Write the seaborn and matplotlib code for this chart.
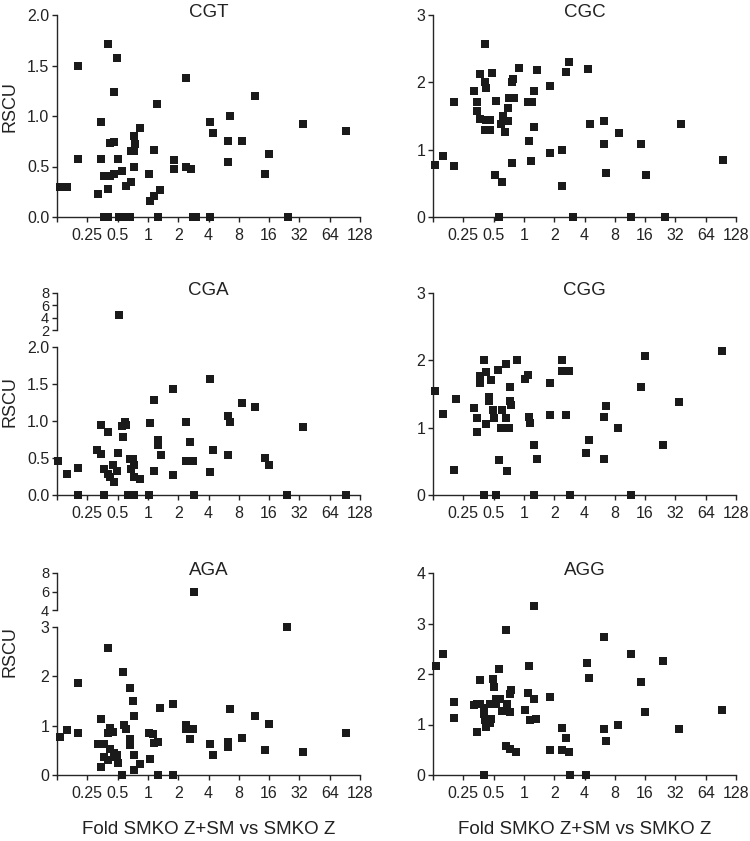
import numpy as np
import pandas as pd
import seaborn as sns
import matplotlib.pyplot as plt

sns.set_style("ticks")
plt.rcParams['font.family'] = ['Liberation Sans', 'DejaVu Sans']
plt.rcParams['axes.linewidth'] = 1.0

x_ticks = [0.125, 0.25, 0.5, 1, 2, 4, 8, 16, 32, 64, 128]
x_tick_labels = ['', '0.25', '0.5', '1', '2', '4', '8', '16', '32', '64', '128']

cgt_fold = [0.133, 0.157, 0.20, 0.20, 0.32, 0.34, 0.34, 0.37, 0.37, 0.40, 0.40, 0.40, 0.42, 0.42, 0.46, 0.46,
            0.46, 0.49, 0.51, 0.52, 0.55, 0.57, 0.61, 0.62, 0.66, 0.68, 0.68, 0.72, 0.73, 0.73, 0.74, 0.84,
            1.03, 1.05, 1.14, 1.14, 1.24, 1.26, 1.33, 1.80, 1.80, 2.38, 2.4, 2.66, 2.83, 3.0, 4.1, 4.1,
            4.45, 6.2, 6.2, 6.5, 8.7, 11.5, 14.5, 15.9, 24.8, 35, 93]
cgt_rscu = [0.30, 0.30, 1.50, 0.57, 0.23, 0.94, 0.57, 0.41, 0.0, 1.71, 0.28, 0.0, 0.73, 0.41, 0.745, 1.24,
            0.43, 1.575, 0.57, 0.0, 0.46, 0.0, 0.31, 0.0, 0.0, 0.35, 0.65, 0.50, 0.80, 0.65, 0.72, 0.88,
            0.43, 0.16, 0.21, 0.665, 1.12, 0.0, 0.27, 0.56, 0.48, 1.38, 0.50, 0.48, 0.0, 0.0, 0.94, 0.0,
            0.83, 0.75, 0.54, 1.0, 0.75, 1.20, 0.43, 0.62, 0.0, 0.92, 0.855]

cgc_fold = [0.132, 0.158, 0.20, 0.20, 0.32, 0.34, 0.34, 0.37, 0.37, 0.41, 0.41, 0.42, 0.41, 0.42, 0.46, 0.46,
            0.48, 0.52, 0.53, 0.56, 0.60, 0.59, 0.62, 0.65, 0.70, 0.70, 0.71, 0.76, 0.78, 0.77, 0.80, 0.89,
            1.09, 1.21, 1.12, 1.17, 1.26, 1.27, 1.34, 1.8, 1.8, 2.4, 2.4, 2.6, 2.8, 3.1, 4.3, 4.5,
            6.3, 6.3, 6.6, 8.9, 11.7, 14.7, 16.3, 25, 36, 94]
cgc_rscu = [0.77, 0.90, 0.755, 1.71, 1.87, 1.71, 1.58, 2.12, 1.455, 2.57, 2.01, 1.91, 1.29, 1.445, 1.29, 1.445,
            2.14, 0.63, 1.73, 0.0, 0.52, 1.38, 1.50, 1.26, 1.43, 1.62, 1.76, 2.0, 2.05, 0.80, 1.76, 2.215,
            1.71, 1.71, 1.13, 0.83, 1.87, 1.33, 2.18, 1.95, 0.95, 1.0, 0.46, 2.16, 2.30, 0.0, 2.205, 1.38,
            1.42, 1.09, 0.66, 1.25, 0.0, 1.09, 0.62, 0.0, 1.38, 0.85]

cga_fold = [0.129, 0.157, 0.20, 0.20, 0.31, 0.34, 0.34, 0.37, 0.37, 0.40, 0.40, 0.42, 0.45, 0.46, 0.49, 0.50,
            0.52, 0.55, 0.57, 0.59, 0.61, 0.64, 0.66, 0.68, 0.71, 0.72, 0.72, 0.73, 0.84, 1.03, 1.05, 1.14,
            1.15, 1.27, 1.27, 1.36, 1.78, 1.78, 2.4, 2.4, 2.6, 2.8, 2.9, 4.1, 4.1, 4.4, 6.2, 6.5,
            6.2, 8.6, 11.5, 14.5, 15.9, 24, 34.5, 93]
cga_rscu = [0.46, 0.29, 0.37, 0.0, 0.61, 0.94, 0.56, 0.35, 0.0, 0.85, 0.29, 0.25, 0.41, 0.17, 0.32, 0.57,
            4.5, 0.935, 0.78, 0.99, 0.94, 0.0, 0.48, 0.35, 0.48, 0.0, 0.24, 0.41, 0.22, 0.0, 0.97, 0.33,
            1.28, 0.74, 0.67, 0.54, 1.43, 0.27, 0.99, 0.46, 0.71, 0.46, 0.0, 1.57, 0.31, 0.61, 1.07, 0.99,
            0.54, 1.25, 1.19, 0.505, 0.41, 0.0, 0.925, 0.0]

cgg_fold = [0.131, 0.157, 0.21, 0.20, 0.32, 0.34, 0.34, 0.37, 0.37, 0.40, 0.40, 0.42, 0.42, 0.45, 0.45, 0.47,
            0.49, 0.50, 0.53, 0.55, 0.57, 0.60, 0.59, 0.66, 0.67, 0.68, 0.71, 0.72, 0.72, 0.74, 0.85, 1.03,
            1.09, 1.13, 1.16, 1.25, 1.27, 1.35, 1.80, 1.80, 2.4, 2.4, 2.6, 2.8, 2.6, 2.9, 4.1, 4.4,
            6.2, 6.5, 6.2, 8.6, 11.6, 14.5, 16, 24, 35, 93]
cgg_rscu = [1.54, 1.20, 1.43, 0.37, 1.29, 1.15, 0.94, 1.76, 1.66, 2.0, 0.0, 1.06, 1.82, 1.46, 1.39, 1.71,
            1.26, 1.15, 0.0, 1.85, 0.52, 1.26, 1.0, 1.15, 1.95, 0.35, 1.0, 1.60, 1.40, 1.34, 2.0, 1.72,
            1.78, 1.16, 1.07, 0.75, 0.0, 0.54, 1.67, 1.19, 2.0, 1.84, 1.84, 1.84, 1.19, 0.0, 0.625, 0.82,
            1.16, 1.32, 0.54, 1.0, 0.0, 1.60, 2.07, 0.75, 1.38, 2.14]

aga_fold = [0.133, 0.157, 0.20, 0.20, 0.32, 0.34, 0.34, 0.37, 0.37, 0.40, 0.40, 0.40, 0.42, 0.42, 0.45, 0.46,
            0.46, 0.49, 0.51, 0.55, 0.56, 0.58, 0.61, 0.66, 0.66, 0.67, 0.71, 0.72, 0.73, 0.73, 0.84, 1.03,
            1.06, 1.13, 1.16, 1.25, 1.25, 1.33, 1.77, 1.77, 2.4, 2.4, 2.6, 2.8, 2.9, 4.1, 4.4, 6.2,
            6.2, 6.5, 8.6, 11.5, 14.5, 16, 24, 34.5, 93]
aga_rscu = [0.765, 0.91, 0.86, 1.875, 0.62, 1.14, 0.16, 0.63, 0.36, 2.57, 0.86, 0.30, 0.95, 0.52, 0.87, 0.44,
            0.37, 0.41, 0.24, 0.0, 2.085, 1.02, 0.94, 0.72, 0.61, 1.76, 1.49, 1.20, 0.41, 0.10, 0.22, 0.86,
            0.32, 0.83, 0.64, 0.66, 0.0, 1.35, 1.44, 0.0, 1.02, 0.93, 0.72, 0.93, 6.0, 0.63, 0.41, 0.66,
            0.56, 1.33, 0.75, 1.20, 0.51, 1.04, 3.0, 0.46, 0.86]

agg_fold = [0.133, 0.157, 0.20, 0.20, 0.32, 0.34, 0.34, 0.37, 0.37, 0.40, 0.40, 0.40, 0.41, 0.42, 0.46, 0.46,
            0.47, 0.49, 0.51, 0.53, 0.53, 0.56, 0.58, 0.60, 0.66, 0.66, 0.68, 0.72, 0.73, 0.73, 0.74, 0.84,
            1.03, 1.09, 1.13, 1.14, 1.25, 1.25, 1.33, 1.80, 1.80, 2.4, 2.4, 2.6, 2.8, 2.9, 4.1, 4.2,
            4.4, 6.2, 6.2, 6.5, 8.6, 11.5, 14.5, 16, 24, 35, 93]
agg_rscu = [2.165, 2.40, 1.44, 1.135, 1.38, 1.41, 0.86, 1.41, 1.875, 1.33, 1.20, 0.0, 1.08, 0.96, 1.41, 1.03,
            1.11, 1.90, 1.74, 1.41, 1.50, 2.10, 1.50, 1.26, 2.865, 0.58, 1.41, 0.515, 1.25, 1.61, 1.68, 0.46,
            1.29, 1.62, 2.165, 1.08, 3.34, 1.50, 1.10, 1.545, 0.49, 0.93, 0.50, 0.73, 0.46, 0.0, 0.0, 2.22,
            1.93, 0.92, 2.73, 0.67, 1.0, 2.40, 1.835, 1.24, 2.25, 0.91, 1.28]

W, H = 750, 841
fig = plt.figure(figsize=(W / 100, H / 100), dpi=100)


def rect(left, top, right, bottom):
    return [left / W, 1 - bottom / H, (right - left) / W, (bottom - top) / H]


def scatter(ax, df, labelsize=11.5):
    sns.scatterplot(data=df, x='fold', y='rscu', ax=ax, marker='s', s=30, color='#1a1a1a',
                    linewidth=0, clip_on=False, zorder=3, legend=False)
    ax.set_xscale('log', base=2)
    ax.set_xlim(0.125, 128)
    ax.set_xlabel('')
    ax.set_ylabel('')
    ax.tick_params(length=3.6, width=1, labelsize=labelsize, colors='#222222', pad=2)
    ax.tick_params(axis='x', pad=4)
    ax.minorticks_off()
    sns.despine(ax=ax)


def panel(title, fold, rscu, left, right, top, bottom, yticks, ylabels,
          brk=None, upper_ticks=None):
    df = pd.DataFrame({'fold': fold, 'rscu': rscu})
    if brk is None:
        ax = fig.add_axes(rect(left, top, right, bottom))
        scatter(ax, df)
    else:
        # broken y axis: small top segment + main lower segment
        up_bottom, low_top = brk
        ax_up = fig.add_axes(rect(left, top, right, up_bottom))
        scatter(ax_up, df[df.rscu > yticks[-1]], labelsize=10.5)
        ax_up.set_ylim(upper_ticks[0], upper_ticks[-1])
        ax_up.set_yticks(upper_ticks)
        ax_up.set_yticklabels([str(t) for t in upper_ticks])
        ax_up.spines['bottom'].set_visible(False)
        ax_up.tick_params(axis='x', bottom=False, labelbottom=False)
        ax = fig.add_axes(rect(left, low_top, right, bottom))
        scatter(ax, df[df.rscu <= yticks[-1]])
    ax.set_ylim(yticks[0], yticks[-1])
    ax.set_yticks(yticks)
    ax.set_yticklabels(ylabels)
    ax.set_xticks(x_ticks)
    ax.set_xticklabels(x_tick_labels)
    fig.text((left + right) / 2 / W, 1 - (top + 2) / H, title, ha='center', va='baseline',
             fontsize=13.5, color='#222222')
    return ax


L0, R0 = 57, 360
L1, R1 = 433, 736

panel('CGT', cgt_fold, cgt_rscu, L0, R0, 15, 217, [0, 0.5, 1, 1.5, 2], ['0.0', '0.5', '1.0', '1.5', '2.0'])
panel('CGC', cgc_fold, cgc_rscu, L1, R1, 15, 217, [0, 1, 2, 3], ['0', '1', '2', '3'])
panel('CGA', cga_fold, cga_rscu, L0, R0, 293, 495, [0, 0.5, 1, 1.5, 2], ['0.0', '0.5', '1.0', '1.5', '2.0'],
      brk=(330, 347), upper_ticks=[2, 4, 6, 8])
panel('CGG', cgg_fold, cgg_rscu, L1, R1, 293, 495, [0, 1, 2, 3], ['0', '1', '2', '3'])
panel('AGA', aga_fold, aga_rscu, L0, R0, 573, 775, [0, 1, 2, 3], ['0', '1', '2', '3'],
      brk=(610, 627), upper_ticks=[4, 6, 8])
panel('AGG', agg_fold, agg_rscu, L1, R1, 573, 775, [0, 1, 2, 3, 4], ['0', '1', '2', '3', '4'])

for yc in [107, 402, 652]:
    fig.text(10 / W, 1 - yc / H, 'RSCU', rotation=90, ha='center', va='center', fontsize=13, color='#222222')
for xc in [(L0 + R0) / 2, (L1 + R1) / 2]:
    fig.text(xc / W, 1 - 829 / H, 'Fold SMKO Z+SM vs SMKO Z', ha='center', va='center',
             fontsize=13.5, color='#222222')

fig.savefig('out.png', dpi=100)
